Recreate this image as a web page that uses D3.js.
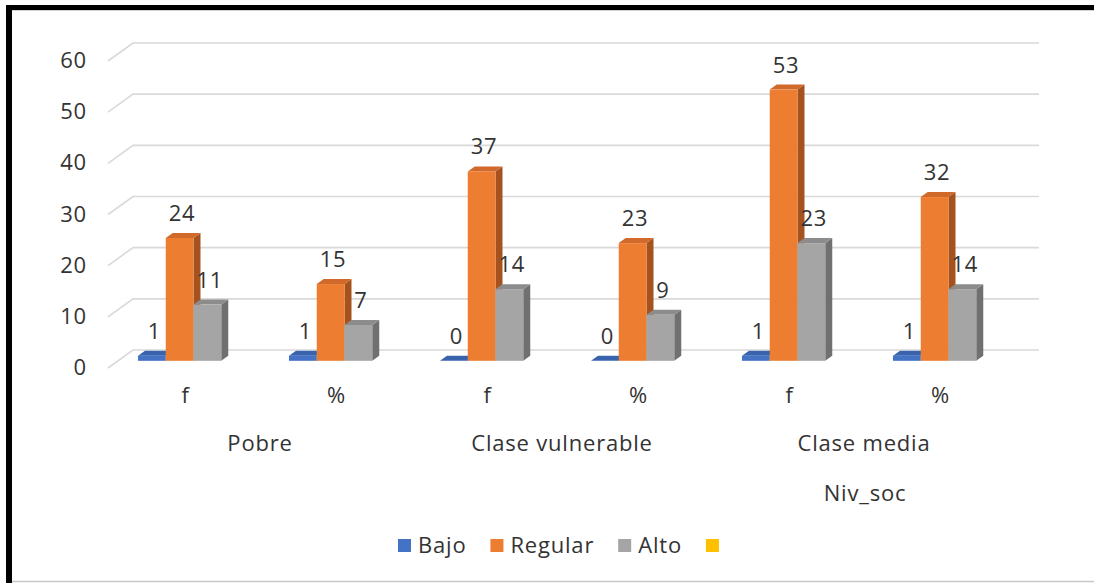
<!DOCTYPE html>
<html>
<head>
<meta charset="utf-8">
<script src="https://cdn.jsdelivr.net/npm/d3@7"></script>
<style>
  html, body { margin: 0; padding: 0; background: #fff; }
  svg { display: block; }
  text { font-family: "Open Sans", sans-serif; fill: #333; letter-spacing: 0.8px; }
</style>
</head>
<body>
<svg id="chart" width="1094" height="583"></svg>
<script>
// ---------- data ----------
const categories = ["f", "%", "f", "%", "f", "%"];
const groups = ["Pobre", "Clase vulnerable", "Clase media"];
const seriesNames = ["Bajo", "Regular", "Alto", ""];
const bajo    = [1, 1, 0, 0, 1, 1];
const regular = [24, 15, 37, 23, 53, 32];
const alto    = [11, 7, 14, 9, 23, 14];
const blank   = [null, null, null, null, null, null];
const yTicks  = [0, 10, 20, 30, 40, 50, 60];
const axisTitle = "Niv_soc";

const seriesValues = [bajo, regular, alto, blank];
const colors = [
  { front: "#4472C4", side: "#2F5597", top: "#3A63AD" },
  { front: "#ED7D31", side: "#A5521E", top: "#D0692A" },
  { front: "#A5A5A5", side: "#707070", top: "#8C8C8C" },
  { front: "#FFC000", side: "#BF9000", top: "#E0A800" }
];

// ---------- layout ----------
const svg = d3.select("#chart");
const FS = 22;
const DX = 25, DY = 18;          // full depth offset (back wall is up-right)
const tBack = 0.32, tFront = 0.6; // bar depth fractions measured from back wall

const x = d3.scaleBand().domain(d3.range(categories.length)).range([133, 1039]).padding(0);
const xs = d3.scaleBand().domain(d3.range(seriesNames.length)).range([0, x.step()])
  .paddingInner(0).paddingOuter(0.72);
const y = d3.scaleLinear().domain([0, 60]).range([350, 43]);

function P(xb, v, t) { return [xb - t * DX, y(v) + t * DY]; }
function poly(pts) { return pts.map(p => p.join(",")).join(" "); }

// ---------- frame ----------
svg.append("rect").attr("x", 0).attr("y", 0).attr("width", 1094).attr("height", 583).attr("fill", "#fff");
svg.append("line").attr("x1", 12).attr("x2", 1094).attr("y1", 10.5).attr("y2", 10.5).attr("stroke", "#d0d0d0").attr("stroke-width", 1);
svg.append("line").attr("x1", 12).attr("x2", 1094).attr("y1", 581.5).attr("y2", 581.5).attr("stroke", "#c8c8c8").attr("stroke-width", 1.5);
svg.append("rect").attr("x", 6).attr("y", 5).attr("width", 1088).attr("height", 5).attr("fill", "#000");
svg.append("rect").attr("x", 6).attr("y", 5).attr("width", 6).attr("height", 578).attr("fill", "#000");

// ---------- gridlines (back wall + side wall) ----------
const grid = svg.append("g").attr("stroke", "#D9D9D9").attr("stroke-width", 1.6).attr("fill", "none");
yTicks.forEach(v => {
  const a = P(x.range()[0], v, 1), b = P(x.range()[0], v, 0), c = P(x.range()[1], v, 0);
  grid.append("polyline").attr("points", poly([a, b, c]));
});

// ---------- y tick labels ----------
svg.append("g").selectAll("text").data(yTicks).join("text")
  .attr("x", 87).attr("y", d => P(x.range()[0], d, 1)[1] + 7)
  .attr("text-anchor", "end").attr("font-size", FS).text(d => d);

// ---------- bars ----------
const barsG = svg.append("g");
categories.forEach((c, i) => {
  seriesValues.forEach((vals, s) => {
    const v = vals[i];
    if (v === null || v === undefined) return;
    const xb0 = x(i) + xs(s), xb1 = xb0 + xs.bandwidth();
    const col = colors[s];
    const g = barsG.append("g");
    g.append("polygon").attr("fill", col.side)
      .attr("points", poly([P(xb1, 0, tFront), P(xb1, 0, tBack), P(xb1, v, tBack), P(xb1, v, tFront)]));
    g.append("polygon").attr("fill", col.top)
      .attr("points", poly([P(xb0, v, tFront), P(xb1, v, tFront), P(xb1, v, tBack), P(xb0, v, tBack)]));
    const f0 = P(xb0, v, tFront), f1 = P(xb1, 0, tFront);
    g.append("rect").attr("fill", col.front)
      .attr("x", f0[0]).attr("y", f0[1]).attr("width", f1[0] - f0[0]).attr("height", Math.max(0, f1[1] - f0[1]));
  });
});

// ---------- data labels ----------
const labG = svg.append("g");
categories.forEach((c, i) => {
  seriesValues.forEach((vals, s) => {
    const v = vals[i];
    if (v === null || v === undefined) return;
    const xb0 = x(i) + xs(s), xb1 = xb0 + xs.bandwidth();
    const f0 = P(xb0, v, tFront), f1 = P(xb1, v, tFront);
    labG.append("text").attr("x", (f0[0] + f1[0]) / 2 + 2.5).attr("y", f0[1] - 17)
      .attr("text-anchor", "middle").attr("font-size", FS).text(v);
  });
});

// ---------- category labels ----------
svg.append("g").selectAll("text").data(categories).join("text")
  .attr("x", (d, i) => P(x(i) + x.bandwidth() / 2, 0, 1)[0] + 2)
  .attr("y", 403).attr("text-anchor", "middle").attr("font-size", FS).text(d => d);

svg.append("g").selectAll("text").data(groups).join("text")
  .attr("x", (d, i) => P(x(i * 2 + 1), 0, 1)[0] + 1)
  .attr("y", 451).attr("text-anchor", "middle").attr("font-size", FS).text(d => d);

svg.append("text").attr("x", P(x(5), 0, 1)[0] + 2).attr("y", 501)
  .attr("text-anchor", "middle").attr("font-size", FS).text(axisTitle);

// ---------- legend ----------
const leg = svg.append("g");
let lx = 398;
seriesNames.forEach((name, s) => {
  leg.append("rect").attr("x", lx).attr("y", 539).attr("width", 13).attr("height", 13).attr("fill", colors[s].front);
  lx += 13;
  if (name) {
    const t = leg.append("text").attr("x", lx + 7).attr("y", 553).attr("font-size", FS).text(name);
    lx += 7 + t.node().getComputedTextLength() + 24;
  }
});
</script>
</body>
</html>
